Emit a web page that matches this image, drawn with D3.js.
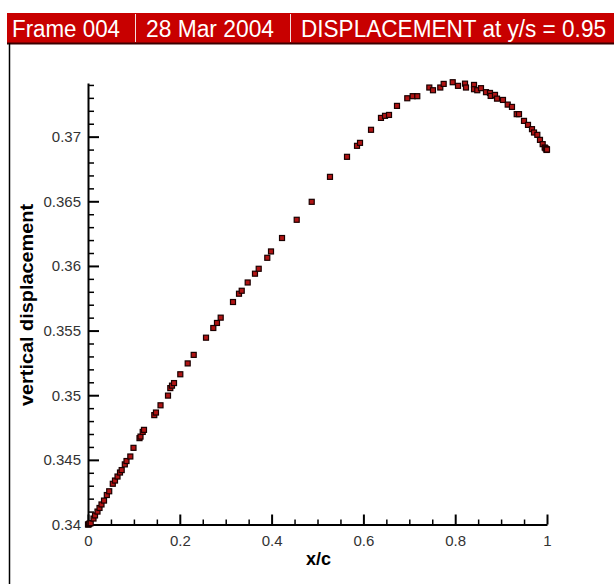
<!DOCTYPE html>
<html>
<head>
<meta charset="utf-8">
<script src="https://cdn.jsdelivr.net/npm/d3@7/dist/d3.min.js"></script>
<style>
  html, body { margin: 0; padding: 0; background: #fff; }
  svg { display: block; }
</style>
</head>
<body>
<script>
// ---- data ----
const xc = [0, 0.0011, 0.0022, 0.0035, 0.0059, 0.0120, 0.0153, 0.0207, 0.0251, 0.0294, 0.0349, 0.0410, 0.0462,
  0.0540, 0.0588, 0.0643, 0.0697, 0.0734, 0.0802, 0.0839, 0.0922, 0.0991, 0.1122, 0.1144, 0.1192, 0.1220,
  0.1444, 0.1481, 0.1580, 0.1743, 0.1793, 0.1830, 0.1874, 0.2011, 0.2172, 0.2303, 0.2571, 0.2730, 0.2810,
  0.2891, 0.3159, 0.3290, 0.3349, 0.3479, 0.3638, 0.3719, 0.3906, 0.3987, 0.4227, 0.4547, 0.4874, 0.5272,
  0.5643, 0.5861, 0.5926, 0.6166, 0.6383, 0.6471, 0.6558, 0.6732, 0.6956, 0.7074, 0.7174, 0.7436, 0.7516,
  0.7675, 0.7749, 0.7946, 0.8061, 0.8214, 0.8235, 0.8410, 0.8410, 0.8481, 0.8562, 0.8671, 0.8758, 0.8773,
  0.8867, 0.8911, 0.9041, 0.9144, 0.9237, 0.9340, 0.9390, 0.9499, 0.9586, 0.9673, 0.9717, 0.9789, 0.9847,
  0.9906, 0.9950, 0.9967, 0.9989, 0.9993, 1.0];
const disp = [0.34, 0.34, 0.34004, 0.34008, 0.3401, 0.34046, 0.3407, 0.3410, 0.34128, 0.34155, 0.34185, 0.34228, 0.34257,
  0.34315, 0.3434, 0.34371, 0.34402, 0.34421, 0.34465, 0.34491, 0.34526, 0.34593, 0.34668, 0.3468, 0.34716, 0.34732,
  0.34846, 0.34866, 0.34922, 0.34997, 0.35055, 0.35074, 0.35094, 0.35162, 0.35246, 0.35312, 0.35445, 0.3552, 0.35559,
  0.356, 0.35721, 0.35785, 0.35808, 0.35872, 0.3594, 0.35978, 0.36063, 0.36112, 0.36216, 0.36357, 0.36496, 0.36689,
  0.36844, 0.36929, 0.36952, 0.37053, 0.37145, 0.37161, 0.37168, 0.37238, 0.37297, 0.37313, 0.37313, 0.3738, 0.37359,
  0.3738, 0.37408, 0.37421, 0.37393, 0.3741, 0.3738, 0.3740, 0.37367, 0.37359, 0.37375, 0.37344, 0.37338, 0.37315,
  0.37323, 0.37294, 0.37284, 0.37248, 0.3723, 0.37174, 0.37174, 0.37122, 0.37091, 0.37058, 0.37032, 0.37014, 0.36975,
  0.36942, 0.36916, 0.3691, 0.36897, 0.36903, 0.3690];
const xTicks = [0, 0.2, 0.4, 0.6, 0.8, 1];
const xTickLabels = ["0", "0.2", "0.4", "0.6", "0.8", "1"];
const yTicks = [0.34, 0.345, 0.35, 0.355, 0.36, 0.365, 0.37];
const yTickLabels = ["0.34", "0.345", "0.35", "0.355", "0.36", "0.365", "0.37"];
const titleParts = ["Frame 004", "28 Mar 2004", "DISPLACEMENT at y/s = 0.95"];
const xTitle = "x/c";
const yTitle = "vertical displacement";

// ---- layout ----
const W = 614, H = 584;
const svg = d3.select("body").append("svg").attr("width", W).attr("height", H);

// header bar
svg.append("rect").attr("x", 7).attr("y", 13).attr("width", W - 7).attr("height", 30).attr("fill", "#c80000");
svg.append("line").attr("x1", 7).attr("x2", W).attr("y1", 43.5).attr("y2", 43.5).attr("stroke", "#3a0000").attr("stroke-width", 2);
// frame left edge
svg.append("line").attr("x1", 9.5).attr("x2", 9.5).attr("y1", 43).attr("y2", H).attr("stroke", "#000").attr("stroke-width", 1.5);

const partX = [12, 146, 301];
const partLen = [108, 128, 305];
titleParts.forEach((t, i) => {
  svg.append("text").attr("x", partX[i]).attr("y", 36.5)
    .attr("font-family", "Liberation Sans, Arial, sans-serif").attr("font-size", 23)
    .attr("fill", "#fff").attr("textLength", partLen[i]).attr("lengthAdjust", "spacingAndGlyphs")
    .text(t);
});
[135.5, 290.5].forEach(sx => {
  svg.append("line").attr("x1", sx).attr("x2", sx).attr("y1", 14).attr("y2", 42)
    .attr("stroke", "#f4dede").attr("stroke-width", 1);
});

// scales
const x = d3.scaleLinear().domain([0, 1]).range([88, 547]);
const y = d3.scaleLinear().domain([0.34, 0.37415]).range([524.5, 83]);

const font = "Liberation Sans, Arial, sans-serif";

// minor ticks
const yMinor = d3.range(0.341, 0.37415, 0.001).filter(v => Math.abs(v * 200 - Math.round(v * 200)) > 1e-6);
const xMinor = d3.range(0.05, 1, 0.05).filter(v => Math.abs(v * 5 - Math.round(v * 5)) > 1e-6);

const gy = svg.append("g").attr("transform", "translate(88,0)");
gy.call(d3.axisLeft(y).tickValues(yTicks).tickFormat((d, i) => yTickLabels[i])
  .tickSizeInner(-11).tickSizeOuter(0).tickPadding(7));
gy.select(".domain").attr("stroke-width", 2);
gy.selectAll(".tick line").attr("stroke-width", 2);
gy.selectAll("text").attr("font-family", font).attr("font-size", 15).attr("fill", "#333");
const gym = svg.append("g").attr("transform", "translate(88,0)");
gym.call(d3.axisLeft(y).tickValues(yMinor).tickFormat("").tickSizeInner(-6).tickSizeOuter(0));
gym.select(".domain").remove();
gym.selectAll(".tick line").attr("stroke-width", 1.5);

const gx = svg.append("g").attr("transform", "translate(0,524.5)");
gx.call(d3.axisBottom(x).tickValues(xTicks).tickFormat((d, i) => xTickLabels[i])
  .tickSizeInner(-10).tickSizeOuter(0).tickPadding(11));
gx.select(".domain").attr("stroke-width", 2);
gx.selectAll(".tick line").attr("stroke-width", 2);
gx.selectAll("text").attr("font-family", font).attr("font-size", 15).attr("fill", "#333");
const gxm = svg.append("g").attr("transform", "translate(0,524.5)");
gxm.call(d3.axisBottom(x).tickValues(xMinor).tickFormat("").tickSizeInner(-5).tickSizeOuter(0));
gxm.select(".domain").remove();
gxm.selectAll(".tick line").attr("stroke-width", 1.5);

// axis titles
svg.append("text").attr("x", 318.5).attr("y", 565).attr("text-anchor", "middle")
  .attr("font-family", font).attr("font-weight", "bold").attr("font-size", 18).attr("fill", "#000")
  .text(xTitle);
svg.append("text").attr("transform", "translate(33,305) rotate(-90)").attr("text-anchor", "middle")
  .attr("font-family", font).attr("font-weight", "bold").attr("font-size", 18).attr("fill", "#000")
  .attr("textLength", 202).attr("lengthAdjust", "spacingAndGlyphs")
  .text(yTitle);

// points
const pts = xc.map((v, i) => ({ x: v, y: disp[i] }));
const s = 5;
svg.append("g").selectAll("rect").data(pts).join("rect")
  .attr("x", d => x(d.x) - s / 2).attr("y", d => y(d.y) - s / 2)
  .attr("width", s).attr("height", s)
  .attr("fill", "#b01414").attr("stroke", "#1a0000").attr("stroke-width", 1.2);
</script>
</body>
</html>
